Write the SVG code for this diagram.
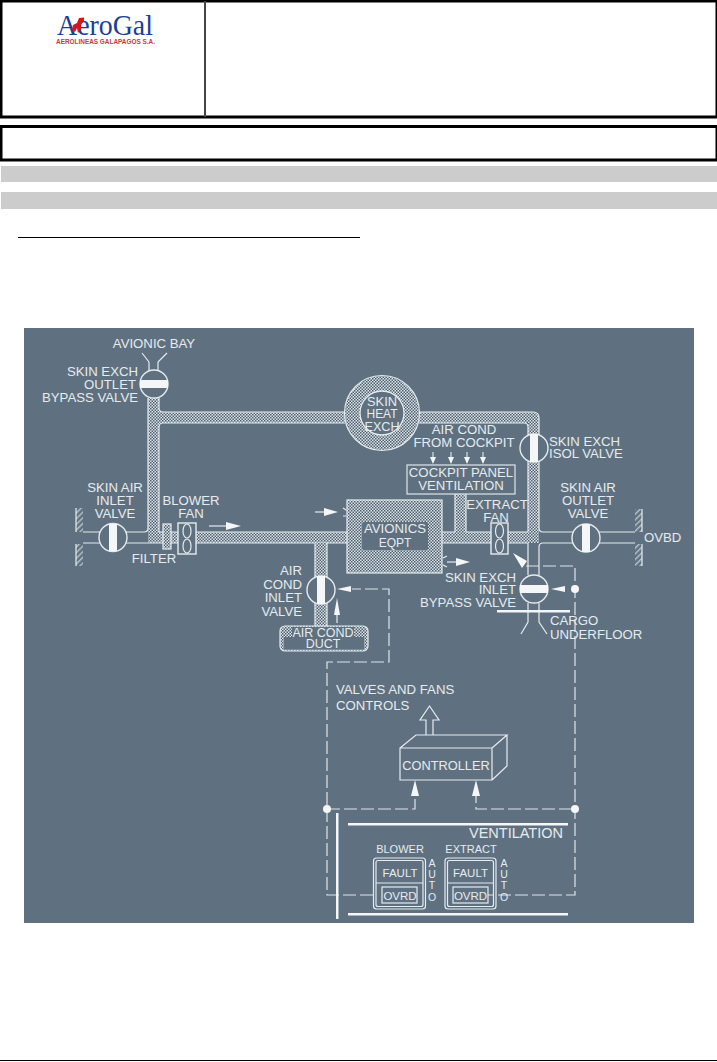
<svg xmlns="http://www.w3.org/2000/svg" width="717" height="1062" viewBox="0 0 717 1062">
<style>
text{font-family:"Liberation Sans",Arial,sans-serif;fill:#e6ebee;font-size:13.2px}
.m{text-anchor:middle}.e{text-anchor:end}
.l{fill:none;stroke:#e6ebee;stroke-width:1.2}
.d{fill:url(#dots);stroke:#e6ebee;stroke-width:1.2}
.dn{fill:url(#dots);stroke:none}
.v{fill:#5f7180;stroke:#e6ebee;stroke-width:1.4}
.b{fill:#f4f6f7}
.dash{fill:none;stroke:#dfe5e8;stroke-width:1.2;stroke-dasharray:13 4}
.w{fill:url(#hatch);stroke:none}
.box{fill:#fff;stroke:#000;stroke-width:3}
</style>
<defs>
<pattern id="dots" width="3" height="3" patternUnits="userSpaceOnUse"><rect width="3" height="3" fill="#dbe1e4"/><rect width="1.5" height="1.5" fill="#4f6170"/><rect x="1.5" y="1.5" width="1.5" height="1.5" fill="#4f6170"/></pattern>
<pattern id="hatch" width="4" height="4" patternUnits="userSpaceOnUse" patternTransform="rotate(45)"><rect width="4" height="4" fill="#5f7180"/><rect width="1.4" height="4" fill="#b9c3c9"/></pattern>
</defs>
<rect width="717" height="1062" fill="#fff"/>
<g id="header">
<rect class="box" x="1" y="1" width="716" height="116"/>
<line x1="205" y1="1" x2="205" y2="117" stroke="#444" stroke-width="2"/>
<rect class="box" x="1" y="126.500" width="716" height="33.500"/>
<rect x="1" y="166" width="716" height="16" fill="#ccc"/>
<rect x="1" y="192" width="716" height="17" fill="#ccc"/>
<line x1="18" y1="237.500" x2="360" y2="237.500" stroke="#000" stroke-width="1"/>
<line x1="0" y1="1060.500" x2="717" y2="1060.500" stroke="#000" stroke-width="1"/>
</g>
<g id="logo">
<text x="57" y="35" style="font-family:'Liberation Serif',serif;font-size:30px;fill:#1c3f94" textLength="96" lengthAdjust="spacingAndGlyphs">AeroGal</text>
<path d="M72 30 L73 25 L77 23 L79 18 L84 17.500 L84 21 L81 24 L81 29 L78 33 L77 28 L75 32 Z" fill="#d8141c"/>
<text x="56" y="44" style="font-size:6.800px;font-weight:bold;fill:#c23a3f" textLength="99" lengthAdjust="spacingAndGlyphs">AEROLINEAS GALAPAGOS S.A.</text>
</g>
<rect id="panel" x="24" y="328" width="670" height="595" fill="#5f7180"/>
<g id="ducts">
<path class="dn" d="M148 398H159V412H345V423H159V532H148Z"/>
<path class="dn" d="M148 532H347V543H148Z"/>
<path class="l" d="M159 532H347M148 543H347M148 398V528M159 398V408Q159 412 163 412H345M345 423H163Q159 423 159 427V532"/>
<path class="dn" d="M419 412H533Q539 412 539 418V542H528V423H419Z"/>
<path class="l" d="M419 412H533Q539 412 539 418V528Q539 532 543 532M419 423H524Q528 423 528 427V532"/>
<path class="dn" d="M442 532H539V543H442Z"/>
<path class="l" d="M442 532H455M466 532H528M442 543H528"/>
<path class="dn" d="M455 494H466V532H455Z"/>
<path class="l" d="M455 494V532M466 494V532"/>
<path class="dn" d="M315 543H327V627H315Z"/>
<path class="l" d="M315 543V627M327 543V627"/>
<path class="l" d="M83 532H144Q148 532 148 528M83 543H148"/>
<path class="l" d="M543 532H635M543 543H635M528 543V575M539 547Q539 543 543 543M539 547V575"/>
<path class="l" d="M528 603V622L521 634M539 603V622L547 634"/>
<path class="l" d="M149 362L142 353M158 362L167 353M149 362V372M158 362V372"/>
</g>
<g id="skin-heat-exch">
<circle class="dn" cx="382" cy="413" r="37"/>
<circle class="l" cx="382" cy="413" r="37.500"/>
<circle cx="382" cy="413" r="22" fill="#5f7180" stroke="#e6ebee" stroke-width="1.300"/>
<text class="m" x="382" y="406" textLength="30" lengthAdjust="spacingAndGlyphs">SKIN</text>
<text class="m" x="382" y="418" textLength="31" lengthAdjust="spacingAndGlyphs">HEAT</text>
<text class="m" x="382" y="431" textLength="35" lengthAdjust="spacingAndGlyphs">EXCH</text>
</g>
<g id="avionics-eqpt">
<rect class="d" x="347" y="500" width="95" height="73"/>
<rect x="362" y="522" width="66" height="28" rx="2" fill="#5f7180"/>
<text class="m" x="395" y="533">AVIONICS</text>
<text class="m" x="395" y="547" style="font-size:12px">EQPT</text>
</g>
<g id="air-cond-duct">
<rect class="dn" x="280" y="626" width="88" height="25" rx="5"/>
<rect class="l" x="280" y="626" width="88" height="25" rx="5"/>
<rect x="284" y="637" width="80" height="12.500" fill="#5f7180"/>
<rect x="292" y="627" width="62" height="11" fill="#5f7180"/>
<text class="m" x="323" y="637" style="font-size:12.500px">AIR COND</text>
<text class="m" x="323" y="648" style="font-size:12.500px">DUCT</text>
</g>
<g id="cockpit-panel">
<rect x="407" y="465" width="108" height="29" fill="#5f7180" stroke="#dfe5e8" stroke-width="1.200"/>
<text class="m" x="461" y="477">COCKPIT PANEL</text>
<text class="m" x="461" y="490">VENTILATION</text>
</g>
<g id="air-cond-cockpit">
<text class="m" x="464" y="434">AIR COND</text>
<text class="m" x="464" y="447">FROM COCKPIT</text>
<path class="b" d="M432.500 452h1v5h2.500l-3 7-3-7h2.500zM450.500 452h1v5h2.500l-3 7-3-7h2.500zM466.500 452h1v5h2.500l-3 7-3-7h2.500zM482.500 452h1v5h2.500l-3 7-3-7h2.500z"/>
</g>
<g id="skin-exch-outlet-bypass">
<circle class="v" cx="154" cy="384" r="14"/><rect class="b" x="140" y="380" width="28" height="8"/>
<text class="m" x="154" y="348">AVIONIC BAY</text>
<text class="e" x="138" y="376">SKIN EXCH</text><text class="e" x="136" y="389">OUTLET</text><text class="e" x="138" y="402">BYPASS VALVE</text>
</g>
<g id="skin-air-inlet">
<circle class="v" cx="113" cy="537.500" r="14"/><rect class="b" x="109" y="524" width="8" height="27"/>
<text class="m" x="115" y="492">SKIN AIR</text><text class="m" x="115" y="505">INLET</text><text class="m" x="115" y="518">VALVE</text>
<path class="w" d="M76 508H83V532H76ZM76 544H83V566H76Z"/>
<path class="l" d="M76 508V532M76 544V566"/>
</g>
<g id="filter">
<rect class="d" x="163" y="524" width="8" height="25"/>
<text class="m" x="154" y="563">FILTER</text>
</g>
<g id="blower-fan">
<rect class="v" x="178" y="523" width="18" height="31"/>
<ellipse class="l" cx="187" cy="531" rx="4" ry="7"/><ellipse class="l" cx="187" cy="546" rx="4" ry="7"/>
<text class="m" x="191" y="505">BLOWER</text><text class="m" x="191" y="518">FAN</text>
</g>
<g id="air-cond-inlet">
<circle class="v" cx="321" cy="590" r="14"/><rect class="b" x="317" y="576" width="8" height="28"/>
<text class="e" x="302" y="575">AIR</text><text class="e" x="302" y="589">COND</text><text class="e" x="302" y="602">INLET</text><text class="e" x="302" y="616">VALVE</text>
</g>
<g id="skin-exch-isol">
<circle class="v" cx="534" cy="448" r="14"/><rect class="b" x="530" y="434" width="8" height="28"/>
<text x="549" y="446">SKIN EXCH</text><text x="549" y="458">ISOL VALVE</text>
</g>
<g id="extract-fan">
<rect class="v" x="491" y="523" width="17" height="31"/>
<ellipse class="l" cx="499.500" cy="531" rx="4" ry="7"/><ellipse class="l" cx="499.500" cy="546" rx="4" ry="7"/>
<text class="m" x="497" y="509">EXTRACT</text><text class="m" x="496" y="522">FAN</text>
</g>
<g id="skin-air-outlet">
<circle class="v" cx="586" cy="538" r="14"/><rect class="b" x="582" y="524" width="8" height="28"/>
<text class="m" x="588" y="492">SKIN AIR</text><text class="m" x="588" y="505">OUTLET</text><text class="m" x="588" y="518">VALVE</text>
<path class="w" d="M635 509H642V532H635ZM635 544H642V566H635Z"/>
<path class="l" d="M642 509V532M642 544V566"/>
<text x="644" y="542">OVBD</text>
</g>
<g id="skin-exch-inlet-bypass">
<circle class="v" cx="534" cy="589" r="14"/><rect class="b" x="520" y="585" width="28" height="8"/>
<text class="e" x="516" y="582">SKIN EXCH</text><text class="e" x="516" y="594">INLET</text><text class="e" x="516" y="607">BYPASS VALVE</text>
<rect class="b" x="497" y="610" width="73" height="2.500"/>
<text x="550" y="625">CARGO</text><text x="550" y="639">UNDERFLOOR</text>
</g>
<g id="connectors">
<path class="dash" d="M526 566H575V895H488M373 895H327V662H389V589H352"/>
<path class="dash" d="M327 809H415V790M476 790V809H575"/>
<circle class="b" cx="327" cy="809" r="4"/><circle class="b" cx="575" cy="809" r="4"/><circle class="b" cx="575" cy="589" r="4"/>
<path class="b" d="M513 553L527 561L522 568Z"/>
<path class="b" d="M351 586V592L337 589ZM565 586V592L551 589Z"/>
<path class="b" d="M337 598L340 615H334Z"/><line x1="337" y1="615" x2="337" y2="623" class="l"/>
<path class="b" d="M415 780L419 796H411ZM476 780L480 796H472Z"/>
<path class="l" d="M209 526H226"/><path class="b" d="M226 522V530L241 526Z"/>
<path class="l" d="M315 512H326"/><path class="b" d="M324 508V516L338 512Z"/>
<path class="l" d="M343 508L346 510M343 516L346 516"/>
<path class="l" d="M447 562H458"/><path class="b" d="M456 558V566L470 562Z"/>
<path class="l" d="M443 558L447 556M443 565L447 567"/>
</g>
<g id="controller">
<path class="l" d="M400 748H492V780H400ZM400 748L416 735H507L492 748M492 780L507 766V735"/>
<path class="l" d="M426 735V720H420L429.500 706 439 720H433V735"/>
<text class="m" x="446" y="770" style="font-size:12.800px">CONTROLLER</text>
<text x="336" y="694">VALVES AND FANS</text><text x="336" y="710">CONTROLS</text>
</g>
<g id="ventilation-panel">
<rect class="b" x="336" y="813" width="2.500" height="106"/>
<rect class="b" x="348" y="823" width="220" height="2.500"/>
<rect class="b" x="348" y="913" width="220" height="2.500"/>
<text class="e" x="563" y="838" style="font-size:14.500px">VENTILATION</text>
</g>
<g id="blower-switch">
<text class="m" x="400" y="853" style="font-size:11px">BLOWER</text>
<rect class="l" x="373.500" y="858" width="52" height="51" rx="3"/><rect class="l" x="376" y="860.500" width="47" height="46" rx="2"/>
<line class="l" x1="376" y1="883" x2="423" y2="883"/>
<rect class="l" x="382" y="887" width="35" height="16"/>
<text class="m" x="400" y="877" style="font-size:11.500px">FAULT</text><text class="m" x="400" y="900" style="font-size:11.500px">OVRD</text>
<text class="m" x="432" y="867" style="font-size:10.500px">A</text><text class="m" x="432" y="878" style="font-size:10.500px">U</text><text class="m" x="432" y="889" style="font-size:10.500px">T</text><text class="m" x="432" y="901" style="font-size:10.500px">O</text>
</g>
<g id="extract-switch">
<text class="m" x="471" y="853" style="font-size:11px">EXTRACT</text>
<rect class="l" x="445" y="858" width="51" height="51" rx="3"/><rect class="l" x="447.500" y="860.500" width="46" height="46" rx="2"/>
<line class="l" x1="447.500" y1="883" x2="493.500" y2="883"/>
<rect class="l" x="453" y="887" width="35" height="16"/>
<text class="m" x="470.500" y="877" style="font-size:11.500px">FAULT</text><text class="m" x="470.500" y="900" style="font-size:11.500px">OVRD</text>
<text class="m" x="504" y="867" style="font-size:10.500px">A</text><text class="m" x="504" y="878" style="font-size:10.500px">U</text><text class="m" x="504" y="889" style="font-size:10.500px">T</text><text class="m" x="504" y="901" style="font-size:10.500px">O</text>
</g>
</svg>
